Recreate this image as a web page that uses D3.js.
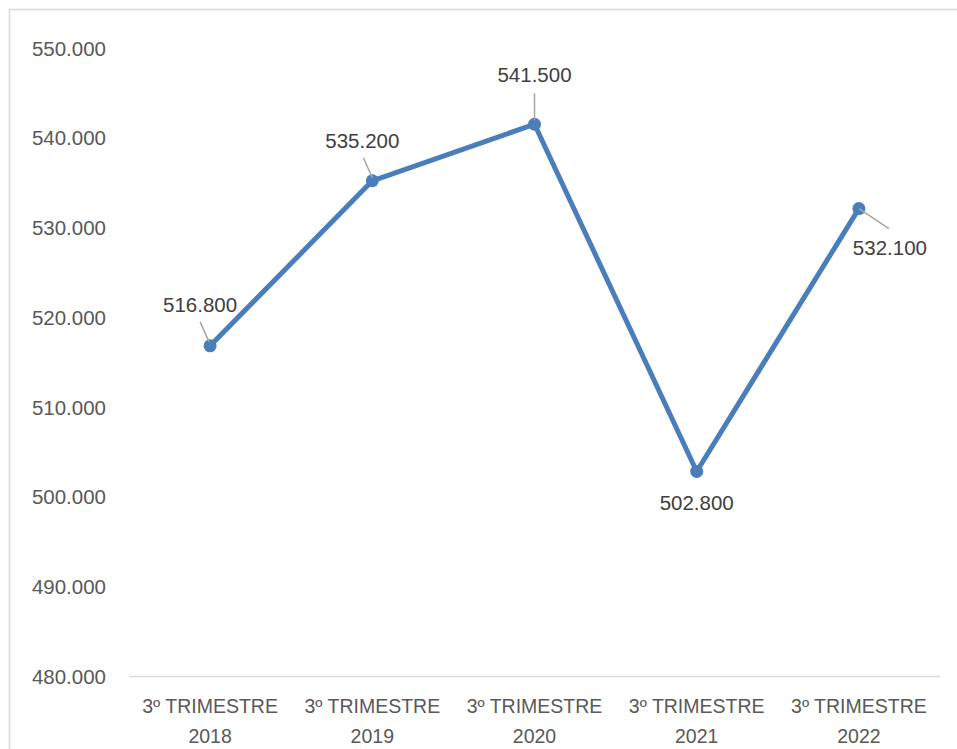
<!DOCTYPE html>
<html>
<head>
<meta charset="utf-8">
<script src="https://cdn.jsdelivr.net/npm/d3@7"></script>
<style>
  body { margin: 0; background: #fff; }
  text { font-family: "Liberation Sans", "DejaVu Sans", sans-serif; }
</style>
</head>
<body>
<div id="chart"></div>
<script>
// chart data
var categories = ["3º TRIMESTRE 2018", "3º TRIMESTRE 2019", "3º TRIMESTRE 2020", "3º TRIMESTRE 2021", "3º TRIMESTRE 2022"];
var values = [516.8, 535.2, 541.5, 502.8, 532.1];
var valueLabels = ["516.800", "535.200", "541.500", "502.800", "532.100"];
var yTicks = [480, 490, 500, 510, 520, 530, 540, 550];

var svgWidth = 957;
var svgHeight = 749;

var margin = { top: 48, bottom: 72, left: 129, right: 17 };
var width = svgWidth - margin.left - margin.right;
var height = svgHeight - margin.top - margin.bottom - 1;

var svg = d3.select("#chart").append("svg")
  .attr("width", svgWidth)
  .attr("height", svgHeight);

// outer border
svg.append("rect")
  .attr("x", 9.5).attr("y", 9.5)
  .attr("width", svgWidth).attr("height", svgHeight)
  .attr("fill", "none")
  .attr("stroke", "#d9d9d9")
  .attr("stroke-width", 1.5);

var g = svg.append("g").attr("transform", `translate(${margin.left},${margin.top})`);

var x = d3.scaleBand().domain(categories).range([0, width]);
var y = d3.scaleLinear().domain([480, 550]).range([height, 0]);

// y axis labels
var yAxis = d3.axisLeft(y).tickValues(yTicks).tickSize(0)
  .tickFormat(d => d + ".000");
var yg = g.append("g").call(yAxis);
yg.select(".domain").remove();
yg.selectAll("text")
  .attr("x", -23)
  .attr("dy", "0.35em")
  .attr("text-anchor", "end")
  .attr("fill", "#595959")
  .style("font-size", "20.5px");

// x axis
var xg = g.append("g").attr("transform", `translate(0,${height})`)
  .call(d3.axisBottom(x).tickSize(0).tickFormat(""));
xg.select(".domain").attr("stroke", "#d9d9d9").attr("stroke-width", 1.5);

categories.forEach(function(c) {
  var parts = c.split(" ");
  var t = xg.append("text")
    .attr("x", x(c) + x.bandwidth() / 2)
    .attr("y", 37)
    .attr("text-anchor", "middle")
    .attr("fill", "#595959")
    .style("font-size", "19.5px");
  t.append("tspan").attr("x", x(c) + x.bandwidth() / 2).text(parts[0] + " " + parts[1]);
  t.append("tspan").attr("x", x(c) + x.bandwidth() / 2).attr("dy", 30).text(parts[2]);
});

var cx = d => x(d.cat) + x.bandwidth() / 2;
var pts = categories.map((c, i) => ({ cat: c, val: values[i], lbl: valueLabels[i] }));

// line
var line = d3.line().x(cx).y(d => y(d.val));
g.append("path")
  .datum(pts)
  .attr("d", line)
  .attr("fill", "none")
  .attr("stroke", "#4a7ebb")
  .attr("stroke-width", 5)
  .attr("stroke-linejoin", "round");

g.selectAll("circle.pt").data(pts).enter().append("circle")
  .attr("class", "pt")
  .attr("cx", cx)
  .attr("cy", d => y(d.val))
  .attr("r", 6.5)
  .attr("fill", "#4a7ebb");

// label offsets relative to the point (text center) and leader lines
var labelOff = [[-10, -41], [-10, -40], [0, -49], [0, 31], [31, 39]];
var leaders = [[[-10, -24], [-1, -4]], [[-9, -23], [0, -3]], [[0, -31], [0, -4]], null, [[0, 0], [30, 20]]];

pts.forEach(function(d, i) {
  var px = cx(d), py = y(d.val);
  if (leaders[i]) {
    g.append("line")
      .attr("x1", px + leaders[i][0][0]).attr("y1", py + leaders[i][0][1])
      .attr("x2", px + leaders[i][1][0]).attr("y2", py + leaders[i][1][1])
      .attr("stroke", "#a6a6a6").attr("stroke-width", 1.5);
  }
  g.append("text")
    .attr("x", px + labelOff[i][0])
    .attr("y", py + labelOff[i][1])
    .attr("dy", "0.35em")
    .attr("text-anchor", "middle")
    .attr("fill", "#404040")
    .style("font-size", "20.5px")
    .text(d.lbl);
});
</script>
</body>
</html>
